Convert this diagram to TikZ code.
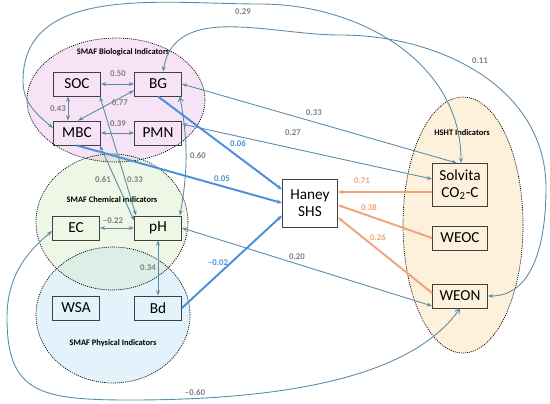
\documentclass[tikz,border=0pt]{standalone}
\usepackage{fontspec}
\setmainfont{Carlito}
\usetikzlibrary{arrows.meta,calc}

\definecolor{bioFill}{HTML}{F6E4F6}
\definecolor{chemFill}{HTML}{EEF7E5}
\definecolor{physFill}{HTML}{E2F3FB}
\definecolor{bioChem}{HTML}{E7E1DB}
\definecolor{chemPhys}{HTML}{DBEFE6}
\definecolor{hshtFill}{HTML}{FDF1DB}
\definecolor{boxLine}{HTML}{404040}
\definecolor{corrLine}{HTML}{5A8CA8}
\definecolor{labGray}{HTML}{7F7F7F}
\definecolor{shsBlue}{HTML}{4A8FDB}
\definecolor{shsOrange}{HTML}{F2A37C}

\begin{document}
\begin{tikzpicture}[x=0.02cm,y=0.02cm,
    >={Stealth[length=3pt,width=2.2pt]},
    box/.style={draw=boxLine,line width=0.5pt,minimum width=0.94cm,
      minimum height=0.48cm,inner sep=1pt,font=\fontsize{8.7}{9.7}\selectfont},
    widebox/.style={box,minimum width=1.1cm},
    corr/.style={<->,draw=corrLine,line width=0.5pt},
    corrBarbEnd/.style={{Stealth[length=3pt,width=2.2pt]}-{Straight Barb[length=2.5pt,width=3pt]},draw=corrLine,line width=0.5pt},
    corrBarbStart/.style={{Straight Barb[length=2.5pt,width=3pt]}-{Stealth[length=3pt,width=2.2pt]},draw=corrLine,line width=0.5pt},
    toHaney/.style={->,draw=shsBlue,line width=1.1pt},
    fromHSHT/.style={->,draw=shsOrange,line width=1.1pt},
    lab/.style={font=\fontsize{5}{6}\selectfont\bfseries,text=labGray,inner sep=0.5pt},
    labBlue/.style={lab,text=shsBlue},
    labOrange/.style={lab,text=shsOrange},
    grouptitle/.style={font=\fontsize{4.8}{6}\selectfont\bfseries,inner sep=0.5pt},
    border/.style={draw=black,line width=0.4pt,dash pattern=on 0.6pt off 0.6pt},
    bioR/.style={x radius=1.78cm,y radius=1.24cm},
    chemR/.style={x radius=1.52cm,y radius=1.36cm},
    physR/.style={x radius=1.54cm,y radius=1.36cm},
    hshtR/.style={x radius=1.2cm,y radius=2.56cm}]

  \useasboundingbox (0,0) rectangle (550,403);

  % ---- Indicator groups ----
  \coordinate (bioC) at (116,303);
  \coordinate (chemC) at (112,181);
  \coordinate (physC) at (113,88);
  \coordinate (hshtC) at (463,178);

  \fill[bioFill] (bioC) ellipse [bioR];
  \fill[chemFill] (chemC) ellipse [chemR];
  \fill[physFill] (physC) ellipse [physR];
  % overlaps
  \begin{scope}
    \clip (bioC) ellipse [bioR];
    \fill[bioChem] (chemC) ellipse [chemR];
  \end{scope}
  \begin{scope}
    \clip (chemC) ellipse [chemR];
    \fill[chemPhys] (physC) ellipse [physR];
  \end{scope}
  \draw[border] (bioC) ellipse [bioR];
  \draw[border] (chemC) ellipse [chemR];
  \draw[border] (physC) ellipse [physR];
  \filldraw[fill=hshtFill,border] (hshtC) ellipse [hshtR];

  \node[grouptitle] (tBio) at (123,351) {SMAF Biological Indicators};
  \node[grouptitle] (tChem) at (112,203) {SMAF Chemical Indicators};
  \node[grouptitle] (tPhys) at (113,60) {SMAF Physical Indicators};
  \node[grouptitle] (tHSHT) at (462,270) {HSHT Indicators};

  % ---- Indicators ----
  \node[box] (SOC) at (77,319) {SOC};
  \node[box] (BG) at (158,319) {BG};
  \node[box] (MBC) at (77,270) {MBC};
  \node[box] (PMN) at (158,270) {PMN};
  \node[box] (EC) at (76,175) {EC};
  \node[box] (pH) at (158,175) {pH};
  \node[box] (WSA) at (76,95) {WSA};
  \node[box] (Bd) at (158,95) {Bd};

  \node[widebox,minimum height=0.96cm,align=center,fill=white] (Haney) at (310,200) {Haney\\SHS};
  \node[widebox,minimum height=0.86cm,align=center] (Solvita) at (460,218) {Solvita\\CO\textsubscript{2}-C};
  \node[widebox] (WEOC) at (460,165) {WEOC};
  \node[widebox] (WEON) at (460,107) {WEON};

  % ---- Correlations within SMAF ----
  \draw[corr] (SOC) -- (BG);
  \draw[corr] ($(SOC.south)+(-9,0)$) -- ($(MBC.north)+(-9,0)$);
  \draw[corr] (BG.195) -- ($(MBC.north)+(1,0)$);
  \draw[corr] (MBC) -- (PMN);
  \draw[corr] ($(SOC.south east)+(-1,0)$) -- ($(pH.north west)+(2,0)$);
  \draw[corr] ($(MBC.south east)+(-1,0)$) -- ($(pH.north west)+(0,-5)$);
  \draw[corrBarbStart] ($(BG.south east)+(-2,0)$) to[out=-80,in=80] ($(pH.north east)+(-2,0)$);
  \draw[corr] (EC) -- (pH);
  \draw[corr] (pH) -- (Bd);

  % ---- Correlations SMAF - HSHT ----
  \draw[corr] (BG.east) -- ($(Solvita.north)+(-3,0)$);
  \draw[corr] ($(PMN.east)+(0,9)$) -- ($(Solvita.west)+(0,6)$);
  \draw[corr] (pH.east) -- ($(WEON.west)+(0,-10)$);
  \draw[corr] ($(MBC.west)+(0,5)$) to[out=140,in=-90] (23,322)
    to[out=90,in=180] (260,399) to[out=0,in=90] ($(Solvita.north)+(1,0)$);
  \draw[corr] ($(BG.north)+(5,0)$) to[out=80,in=180] (340,368)
    to[out=0,in=90] (546,215) to[out=-90,in=0] (WEON.east);
  \draw[corrBarbEnd] ($(EC.west)+(0,-3)$) to[out=-140,in=90] (7,85)
    .. controls (7,10) and (40,3) .. (130,3)
    .. controls (340,3) and (425,45) .. (WEON.south);

  % ---- Paths to Haney SHS ----
  \draw[toHaney] (BG.south) -- ($(Haney.north west)+(0,-11)$);
  \draw[toHaney] (MBC.south) -- (Haney.west);
  \draw[toHaney] (Bd.east) -- ($(Haney.south west)+(0,12)$);
  \draw[fromHSHT] ($(Solvita.west)+(0,-7)$) -- ($(Haney.east)+(0,11)$);
  \draw[fromHSHT] (WEOC.west) -- ($(Haney.east)+(0,-2)$);
  \draw[fromHSHT] ($(WEON.west)+(0,3)$) -- ($(Haney.south east)+(0,10)$);

  % ---- Labels ----
  \node[lab] (lSOCBG) at (118,329) {0.50};
  \node[lab] (lSOCMBC) at (58,294) {0.43};
  \node[lab] (lBGMBC) at (120,300) {0.77};
  \node[lab] (lMBCPMN) at (118,279) {0.39};
  \node[lab] (lMBCpH) at (103,223) {0.61};
  \node[lab] (lSOCpH) at (135,223) {0.33};
  \node[lab] (lBGpH) at (198,247) {0.60};
  \node[lab] (lECpH) at (113,182) {--0.22};
  \node[lab] (lpHBd) at (148,135) {0.34};
  \node[lab] (lBGSol) at (314,290) {0.33};
  \node[lab] (lPMNSol) at (293,270) {0.27};
  \node[lab] (lpHWEON) at (297,146) {0.20};
  \node[lab] (lMBCSol) at (243,391) {0.29};
  \node[lab] (lBGWEON) at (480,342) {0.11};
  \node[lab] (lECWEON) at (195,10) {--0.60};
  \node[labBlue] (lBG) at (238,259) {0.06};
  \node[labBlue] (lMBC) at (222,224) {0.05};
  \node[labBlue] (lBd) at (218,140) {--0.02};
  \node[labOrange] (lSol) at (362,222) {0.71};
  \node[labOrange] (lWEOC) at (369,196) {0.38};
  \node[labOrange] (lWEON) at (378,165) {0.26};
\end{tikzpicture}
\end{document}
